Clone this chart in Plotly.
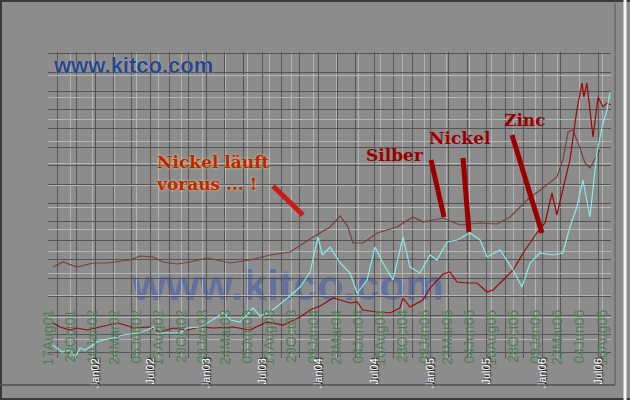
import plotly.graph_objects as go

# ---------------- data ----------------
green_tick_dates = ["2001-08-17", "2001-10-29", "2002-01-10", "2002-03-24", "2002-06-05", "2002-08-17",
                    "2002-10-29", "2003-01-09", "2003-03-24", "2003-06-05", "2003-08-17", "2003-10-29",
                    "2004-01-09", "2004-03-23", "2004-06-04", "2004-08-16", "2004-10-28", "2005-01-09",
                    "2005-03-23", "2005-06-04", "2005-08-16", "2005-10-28", "2006-01-09", "2006-03-23",
                    "2006-06-04", "2006-08-16"]
green_tick_labels = ["17Aug01", "29Oct01", "10Jan02", "24Mar02", "05Jun02", "17Aug02", "29Oct02", "09Jan03",
                     "24Mar03", "05Jun03", "17Aug03", "29Oct03", "09Jan04", "23Mar04", "04Jun04", "16Aug04",
                     "28Oct04", "09Jan05", "23Mar05", "04Jun05", "16Aug05", "28Oct05", "09Jan06", "23Mar06",
                     "04Jun06", "16Aug06"]

cyan_dates = ["2001-09-02", "2001-10-02", "2001-10-28", "2001-11-14", "2001-11-30", "2001-12-17",
              "2002-01-02", "2002-01-25", "2002-02-14", "2002-03-19", "2002-04-21", "2002-06-06", "2002-07-09",
              "2002-07-29", "2002-08-11", "2002-09-13", "2002-10-26", "2002-11-18", "2002-12-31",
              "2003-01-23", "2003-02-25", "2003-03-17", "2003-04-09", "2003-05-12", "2003-06-23", "2003-07-16",
              "2003-08-18", "2003-09-20", "2003-10-23", "2003-11-25", "2003-12-28",
              "2004-01-23", "2004-02-06", "2004-03-03", "2004-04-05", "2004-05-08", "2004-05-31", "2004-07-03",
              "2004-07-29", "2004-08-24", "2004-09-26", "2004-10-29", "2004-11-21", "2004-12-24",
              "2005-01-26", "2005-02-18", "2005-03-23", "2005-04-25", "2005-06-07", "2005-07-10", "2005-08-02",
              "2005-09-14", "2005-10-27", "2005-11-25", "2005-12-22",
              "2006-01-23", "2006-03-07", "2006-04-09", "2006-05-02", "2006-05-25", "2006-06-14", "2006-07-07",
              "2006-07-30", "2006-08-16", "2006-09-01", "2006-09-11"]
cyan_values = [6.5, 3, 4, 0.5, 5, 4,
               5.5, 8, 9, 10, 11.5, 12.5, 14, 15.5, 12.5, 12.5, 12.5, 15, 15.5,
               17.5, 20.5, 23, 19, 18, 25, 21, 23, 27, 31, 35.5, 43,
               60.5, 51.5, 55.5, 47.5, 42.5, 32.5, 39, 55.5, 47.5, 39, 60.5, 45.5, 42.5,
               51.5, 49, 58, 59, 62.5, 59, 50.5, 54, 44, 35.5, 47.5,
               52.5, 51.5, 52.5, 65.5, 75.5, 89, 70.5, 102.5, 115.5, 124, 133]

red_dates = ["2001-09-02", "2001-09-25", "2001-10-28", "2001-11-20", "2001-12-23",
             "2002-02-04", "2002-04-01", "2002-04-28", "2002-05-24", "2002-07-19", "2002-08-21", "2002-10-03",
             "2002-11-18", "2002-12-31",
             "2003-02-12", "2003-04-18", "2003-06-13", "2003-08-08", "2003-08-28", "2003-09-30", "2003-11-25",
             "2003-12-28",
             "2004-01-30", "2004-03-13", "2004-04-05", "2004-05-08", "2004-05-31", "2004-06-19", "2004-08-05",
             "2004-09-16", "2004-10-19", "2004-10-29", "2004-11-21",
             "2005-01-03", "2005-01-26", "2005-02-18", "2005-03-10", "2005-04-02", "2005-04-25", "2005-05-28",
             "2005-06-30", "2005-08-02", "2005-08-22", "2005-09-24", "2005-10-27", "2005-11-29",
             "2006-01-13", "2006-02-09", "2006-03-04", "2006-03-20", "2006-04-06", "2006-05-02", "2006-05-25",
             "2006-06-11", "2006-06-17", "2006-06-27", "2006-07-07", "2006-07-17", "2006-08-03", "2006-08-19",
             "2006-09-01", "2006-09-13"]
red_values = [17.5, 15.5, 14, 15, 14,
              15.5, 17.5, 16.5, 15, 15.5, 13, 15, 14, 15.5,
              15, 15.5, 14, 18, 17.5, 16.5, 20.5, 24,
              26, 30, 29, 27.5, 28, 24, 23, 22.5, 25, 30, 25.5,
              29, 35, 39, 42, 43, 38, 37.5, 37.5, 33, 34, 39, 44, 52.5,
              62.5, 67.5, 82.5, 71.5, 82.5, 99, 124, 137.5, 130.5, 137.5, 124, 110.5, 130.5, 125.5,
              127.5, 126.5]

brown_dates = ["2001-09-02", "2001-10-05", "2001-11-20",
               "2002-01-12", "2002-02-27", "2002-04-01", "2002-05-14", "2002-06-16", "2002-07-29", "2002-08-30",
               "2002-10-16", "2002-11-28",
               "2003-01-23", "2003-04-09", "2003-06-13", "2003-08-18", "2003-10-23",
               "2004-01-07", "2004-03-03", "2004-04-05", "2004-05-01", "2004-05-17", "2004-06-19", "2004-08-05",
               "2004-10-09", "2004-12-01",
               "2005-01-03", "2005-03-10", "2005-05-05", "2005-07-10", "2005-09-04", "2005-10-17", "2005-12-12",
               "2006-02-02", "2006-03-20", "2006-04-09", "2006-04-26", "2006-05-12", "2006-05-29", "2006-06-21",
               "2006-07-07", "2006-08-09"]
brown_values = [45.5, 48, 45.5,
                47.5, 47.5, 48, 49, 51, 50.5, 48, 47, 48,
                50, 47.5, 49, 51.5, 53,
                60.5, 65.5, 71, 65.5, 57.5, 57.5, 62.5, 65.5, 70.5,
                68, 70, 66.5, 67.5, 67, 70.5, 79,
                85, 90.5, 99, 113, 114, 107.5, 97.5, 95, 104]

# ---------------- layout helpers (pixel -> paper) ----------------
L, R, T, B = 48, 19, 52, 42
PW, PH = 630 - L - R, 400 - T - B


def px(x):
    return (x - L) / PW


def py(y):
    return (400 - B - y) / PH


GRAY = "#8c8c8c"
LIGHT = "#b4b4b4"
DARK = "#555555"

fig = go.Figure()
fig.add_trace(go.Scatter(x=brown_dates, y=brown_values, mode="lines",
                         line=dict(color="#7d3d3d", width=1.2), hoverinfo="skip"))
fig.add_trace(go.Scatter(x=red_dates, y=red_values, mode="lines",
                         line=dict(color="#9a0808", width=1.2), hoverinfo="skip"))
fig.add_trace(go.Scatter(x=cyan_dates, y=cyan_values, mode="lines",
                         line=dict(color="#86ece4", width=1.2), hoverinfo="skip"))
# helper trace so the overlay axes exist
fig.add_trace(go.Scatter(x=[], y=[], xaxis="x2", yaxis="y2", hoverinfo="skip"))

fig.update_layout(
    width=630, height=400,
    margin=dict(l=L, r=R, t=T, b=B),
    paper_bgcolor=GRAY, plot_bgcolor=GRAY,
    showlegend=False,
    xaxis=dict(type="date", range=["2001-08-16 12:00", "2006-09-14 10:00"],
               tickmode="array", tickvals=green_tick_dates, ticktext=green_tick_labels,
               tickangle=-90, ticks="",
               tickfont=dict(family="Liberation Sans, Arial", size=14, color="#4f7f55"),
               showgrid=True, gridcolor=LIGHT, gridwidth=1, zeroline=False, showline=False,
               anchor="free", position=py(306)),
    xaxis2=dict(type="date", overlaying="x", range=["2001-07-31 14:00", "2006-08-12 10:00"],
                tick0="2002-01-01", dtick="M6", tickformat="%b%y", tickangle=-90, ticks="",
                tickfont=dict(family="Liberation Sans, Arial", size=11, color="#ffffff",
                              shadow="1px 1px 1px #000000"),
                showgrid=True, gridcolor=DARK, gridwidth=1, zeroline=False, showline=False,
                minor=dict(tick0="2002-01-01", dtick="M2", showgrid=True, gridcolor=DARK, gridwidth=1),
                anchor="free", position=py(355), side="bottom"),
    yaxis=dict(range=[0, 153], tick0=9.5, dtick=11, showgrid=True, gridcolor=LIGHT, gridwidth=1,
               showticklabels=False, zeroline=False, showline=False, anchor="free", position=0),
    yaxis2=dict(range=[0, 153], overlaying="y", tick0=2.6, dtick=9.35, showgrid=True, gridcolor=DARK,
                gridwidth=1, showticklabels=False, zeroline=False, showline=False,
                anchor="free", position=0),
)

shapes = []


def seg(x0, y0, x1, y1, color, width):
    shapes.append(dict(type="line", xref="paper", yref="paper",
                       x0=px(x0), y0=py(y0), x1=px(x1), y1=py(y1),
                       line=dict(color=color, width=width)))


# frame
seg(0, 1, 630, 1, "#3a3a3a", 2)
seg(1, 0, 1, 400, "#3a3a3a", 2)
seg(0, 399, 630, 399, "#3a3a3a", 2)
seg(0, 385, 615, 385, "#505050", 1.5)
seg(615, 3, 615, 385, "#6a6a6a", 1.5)
seg(625, 0, 625, 400, "#f4f4f4", 3)
# arrows
seg(273, 186, 303, 215, "#cc1a1a", 5)
seg(431, 160, 444, 217, "#9b0000", 5)
seg(463, 158, 469, 232, "#9b0000", 5)
seg(512, 135, 542, 233, "#9b0000", 5)

# watermark (behind the lines)
shapes.append(dict(type="rect", xref="paper", yref="paper", layer="between",
                   x0=px(126), x1=px(450), y0=py(302), y1=py(260),
                   line=dict(width=0), fillcolor="rgba(0,0,0,0)",
                   label=dict(text="<b>www.kitco.com</b>", textposition="middle center",
                              font=dict(family="Liberation Sans, Arial", size=43,
                                        color="rgba(45,80,185,0.45)"))))
fig.update_layout(shapes=shapes)

ann = []
ann.append(dict(xref="paper", yref="paper", x=px(51), y=py(66), xanchor="left", yanchor="middle",
                text="<b>www.kitco.com</b>", showarrow=False,
                font=dict(family="Liberation Sans, Arial", size=22, color="#25478e",
                          shadow="0px 0px 1px #d8ccaa")))
ann.append(dict(xref="paper", yref="paper", x=px(154), y=py(150), xanchor="left", yanchor="top",
                align="left", text="<b>Nickel läuft<br>voraus ... !</b>", showarrow=False,
                font=dict(family="DejaVu Serif", size=17, color="#c8200a",
                          shadow="0px 0px 3px #d8e070")))
for txt, x0, yc in [("Silber", 364, 155), ("Nickel", 427, 138), ("Zinc", 502, 120)]:
    ann.append(dict(xref="paper", yref="paper", x=px(x0), y=py(yc), xanchor="left", yanchor="middle",
                    text="<b>" + txt + "</b>", showarrow=False,
                    font=dict(family="DejaVu Serif", size=17, color="#9b0000")))
fig.update_layout(annotations=ann)

fig.write_html("out.html", config={"displayModeBar": False},
               post_script="document.body.style.margin='0';document.body.style.overflow='hidden';")
